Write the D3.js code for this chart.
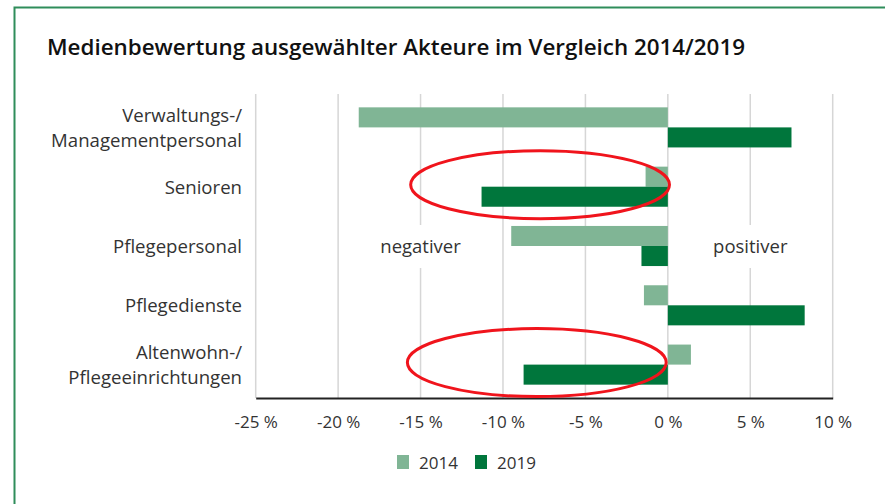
<!DOCTYPE html>
<html>
<head>
<meta charset="utf-8">
<script src="https://cdn.jsdelivr.net/npm/d3@7"></script>
<style>
  html, body { margin: 0; padding: 0; background: #fff; }
  svg { display: block; }
  text { font-family: "Open Sans", "Noto Sans", sans-serif; fill: #333; }
</style>
</head>
<body>
<script>
// ---- Data ----
const categories = [
  ["Verwaltungs-/", "Managementpersonal"],
  ["Senioren"],
  ["Pflegepersonal"],
  ["Pflegedienste"],
  ["Altenwohn-/", "Pflegeeinrichtungen"]
];
const seriesNames = ["2014", "2019"];
const values2014 = [-18.75, -1.35, -9.5, -1.45, 1.4];
const values2019 = [7.5, -11.3, -1.6, 8.3, -8.75];
const tickValues = [-25, -20, -15, -10, -5, 0, 5, 10];
const tickLabels = ["-25 %", "-20 %", "-15 %", "-10 %", "-5 %", "0 %", "5 %", "10 %"];
const title = "Medienbewertung ausgewählter Akteure im Vergleich 2014/2019";
const areaLabels = [{ text: "negativer", at: -15 }, { text: "positiver", at: 5 }];
// highlighted categories (annotation ellipses), centred at a value
const highlights = [{ cat: 1, center: -7.75, halfWidth: 7.85 }, { cat: 4, center: -7.95, halfWidth: 7.85 }];

const colors = { "2014": "#80b595", "2019": "#00763c" };

const W = 885, H = 504;
const svg = d3.select("body").append("svg").attr("width", W).attr("height", H);

// frame
svg.append("path")
  .attr("d", `M14.5,${H} L14.5,7.5 L${W},7.5`)
  .attr("fill", "none").attr("stroke", "#2f8d5b").attr("stroke-width", 2);

// title
svg.append("text")
  .attr("x", 47).attr("y", 55)
  .attr("font-size", 22).attr("font-weight", 600)
  .attr("textLength", 698).attr("lengthAdjust", "spacingAndGlyphs")
  .style("fill", "#111")
  .text(title);

const x = d3.scaleLinear().domain([-25, 10]).range([255.7, 832.7]);
const y = d3.scaleBand().domain(d3.range(categories.length)).range([94, 398])
  .paddingInner(0.324).paddingOuter(0.225);
const ySub = d3.scaleBand().domain(seriesNames).range([0, y.bandwidth()]);

// gridlines
svg.append("g").selectAll("line").data(tickValues).join("line")
  .attr("x1", d => x(d)).attr("x2", d => x(d))
  .attr("y1", 94).attr("y2", 398)
  .attr("stroke", "#d6d6d6").attr("stroke-width", 1.5);

// bars
const series = [values2014, values2019];
seriesNames.forEach((s, si) => {
  svg.append("g").selectAll("rect").data(series[si]).join("rect")
    .attr("x", d => x(Math.min(0, d)))
    .attr("width", d => Math.abs(x(d) - x(0)))
    .attr("y", (d, i) => y(i) + ySub(s))
    .attr("height", ySub.bandwidth())
    .attr("fill", colors[s]);
});

// area labels with white background interrupting gridlines
const midY = y(2) + y.bandwidth() / 2;
const al = svg.append("g").selectAll("g").data(areaLabels).join("g");
al.append("rect")
  .attr("x", d => x(d.at) - 45).attr("width", 90)
  .attr("y", midY - 21).attr("height", 43)
  .attr("fill", "#fff");
al.append("text")
  .attr("x", d => x(d.at)).attr("y", midY + 7)
  .attr("text-anchor", "middle").attr("font-size", 18.5)
  .text(d => d.text);

// category labels
const lab = svg.append("g").selectAll("text").data(categories).join("text")
  .attr("text-anchor", "end").attr("font-size", 18.6);
lab.each(function(lines, i) {
  const cy = y(i) + y.bandwidth() / 2;
  const t = d3.select(this);
  const n = lines.length;
  lines.forEach((ln, k) => {
    t.append("tspan").attr("x", 242)
      .attr("y", cy + 7 + (k - (n - 1) / 2) * 25)
      .text(ln);
  });
});

// x axis
const xAxis = d3.axisBottom(x).tickValues(tickValues)
  .tickFormat((d, i) => tickLabels[i]).tickSize(0).tickPadding(0);
const ax = svg.append("g").attr("transform", "translate(0,398)").call(xAxis);
ax.select(".domain").attr("stroke", "#222").attr("stroke-width", 2);
ax.selectAll("text").attr("font-size", 17).attr("dy", null).attr("y", 30)
  .style("font-family", '"Open Sans", sans-serif').style("fill", "#333");

// legend
const legX = [397, 475];
const lg = svg.append("g").selectAll("g").data(seriesNames).join("g")
  .attr("transform", (d, i) => `translate(${legX[i]},455)`);
lg.append("rect").attr("width", 12).attr("height", 14).attr("fill", d => colors[d]);
lg.append("text").attr("x", 22).attr("y", 14).attr("font-size", 17).text(d => d);

// highlight ellipses
svg.append("g").selectAll("ellipse").data(highlights).join("ellipse")
  .attr("cx", d => x(d.center))
  .attr("cy", d => y(d.cat) + y.bandwidth() / 2 - 2)
  .attr("rx", d => x(d.center + d.halfWidth) - x(d.center))
  .attr("ry", 34)
  .attr("fill", "none").attr("stroke", "#f0141c").attr("stroke-width", 3);
</script>
</body>
</html>
